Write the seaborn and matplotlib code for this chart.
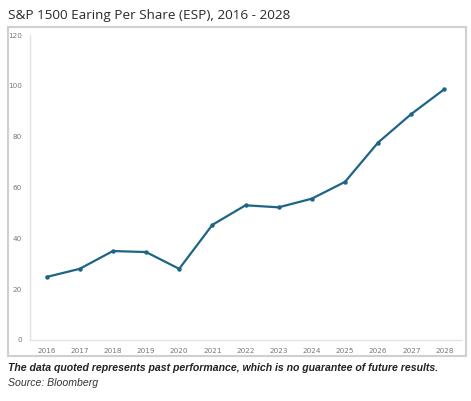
import matplotlib
matplotlib.use("Agg")
import pandas as pd
import numpy as np
import matplotlib.pyplot as plt
import seaborn as sns
from matplotlib.patches import Rectangle

years = ["2016", "2017", "2018", "2019", "2020", "2021", "2022",
         "2023", "2024", "2025", "2026", "2027", "2028"]
eps = [24.8, 28.0, 35.0, 34.6, 28.0, 45.3, 53.0,
       52.2, 55.6, 62.2, 77.7, 88.9, 98.7]
y_ticks = [0, 20, 40, 60, 80, 100, 120]

title = "S&P 1500 Earing Per Share (ESP), 2016 - 2028"
note = "The data quoted represents past performance, which is no guarantee of future results."
source = "Source: Bloomberg"

df = pd.DataFrame({"year": years, "eps": eps})

sns.set_style("white")
fig = plt.figure(figsize=(4.71, 4.01), dpi=100)
ax = fig.add_axes([30 / 471, 61 / 401, 431 / 471, 305 / 401])

# outer box round the chart area
fig.patches.append(Rectangle((8 / 471, 45 / 401), 458 / 471, 329 / 401,
                             transform=fig.transFigure, fill=False,
                             edgecolor="#d0d0d0", linewidth=1.5))

sns.lineplot(data=df, x="year", y="eps", ax=ax, color="#1d6585",
             linewidth=1.6, marker="o", markersize=3.2, markeredgewidth=0)

ax.set_xlim(-0.5, len(years) - 0.5)
ax.set_ylim(0, 120)
ax.set_yticks(y_ticks)
ax.set_xticks(range(len(years)))
ax.set_xticks(np.arange(-0.5, len(years), 1.0), minor=True)
ax.tick_params(axis="x", which="major", length=0, pad=6, labelsize=5.2, labelcolor="#777777")
ax.tick_params(axis="x", which="minor", length=3, color="#dddddd", width=0.8)
ax.tick_params(axis="y", length=3, color="#dddddd", width=0.8, labelsize=5.2,
               labelcolor="#777777", pad=3)
ax.set_xlabel("")
ax.set_ylabel("")
for side in ["top", "right"]:
    ax.spines[side].set_visible(False)
for side in ["left", "bottom"]:
    ax.spines[side].set_color("#e2e2e2")
    ax.spines[side].set_linewidth(1.0)

fig.text(8 / 471, 1 - 15 / 401, title, fontfamily="Open Sans", fontsize=9.7,
         color="#2a2a2a", va="center", ha="left")
fig.text(8 / 471, 1 - 368 / 401, note, fontfamily="Liberation Sans", fontsize=7.6,
         fontweight="bold", fontstyle="italic", color="#222222", va="center", ha="left")
fig.text(8 / 471, 1 - 383 / 401, source, fontfamily="Liberation Sans", fontsize=7.6,
         fontstyle="italic", color="#333333", va="center", ha="left")

fig.savefig("out.png", dpi=100)
